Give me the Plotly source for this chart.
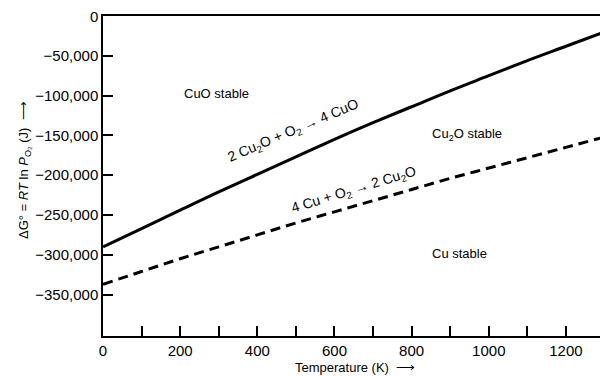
import plotly.graph_objects as go

temperature = [0, 100, 200, 300, 400, 500, 600, 700, 800, 900, 1000, 1100, 1200, 1300]
dg_cu2o_to_cuo = [-290000, -267000, -244000, -221000, -199000, -177000, -155000,
                  -134000, -114000, -94000, -75000, -56000, -38000, -20000]
dg_cu_to_cu2o = [-337000, -321000, -305000, -290000, -275000, -260000, -246000,
                 -232000, -218000, -204000, -191000, -178000, -165000, -152000]

x_tick_vals = [0, 100, 200, 300, 400, 500, 600, 700, 800, 900, 1000, 1100, 1200]
x_tick_text = ["0", "", "200", "", "400", "", "600", "", "800", "", "1000", "", "1200"]
y_tick_vals = [0, -50000, -100000, -150000, -200000, -250000, -300000, -350000]

FONT = "Liberation Sans, Arial, sans-serif"

fig = go.Figure()
fig.add_trace(go.Scatter(x=temperature, y=dg_cu2o_to_cuo, mode="lines",
                         line=dict(color="black", width=3, shape="spline"),
                         showlegend=False, hoverinfo="skip"))
fig.add_trace(go.Scatter(x=temperature, y=dg_cu_to_cu2o, mode="lines",
                         line=dict(color="black", width=3, dash="10px,6px", shape="spline"),
                         showlegend=False, hoverinfo="skip"))

def ann(size=13):
    return dict(showarrow=False, font=dict(family=FONT, size=size, color="black"),
                xref="paper", yref="paper")

fig.add_annotation(x=(182 - 103) / 505, y=(336 - 93) / 320, text="CuO stable",
                   xanchor="left", yanchor="middle", **ann())
fig.add_annotation(x=(467 - 103) / 505, y=(336 - 134) / 320, text="Cu<sub>2</sub>O stable",
                   xanchor="center", yanchor="middle", **ann())
fig.add_annotation(x=(459 - 103) / 505, y=(336 - 253) / 320, text="Cu stable",
                   xanchor="center", yanchor="middle", **ann())
fig.add_annotation(x=(293 - 103) / 505, y=(336 - 131) / 320,
                   text="2 Cu<sub>2</sub>O + O<sub>2</sub> → 4 CuO",
                   textangle=-23, xanchor="center", yanchor="middle", **ann(14))
fig.add_annotation(x=(354 - 103) / 505, y=(336 - 190) / 320,
                   text="4 Cu + O<sub>2</sub> → 2 Cu<sub>2</sub>O",
                   textangle=-17, xanchor="center", yanchor="middle", **ann(14))
# axis titles
fig.add_annotation(x=(355 - 103) / 505, y=(336 - 367) / 320,
                   text="Temperature (K)  ⟶", xanchor="center", yanchor="middle", **ann())
fig.add_annotation(x=(24 - 103) / 505, y=(336 - 170) / 320,
                   text="ΔG° = <i>RT</i> ln <i>P</i><sub>O₂</sub> (J)  ⟶",
                   textangle=-90, xanchor="center", yanchor="middle", **ann())
# top "0" tick label (plotly hides it at the figure's top edge)
fig.add_annotation(x=0, xref="paper", y=y_tick_vals[0], yref="y", text=f"{y_tick_vals[0]:,}",
                   showarrow=False, xanchor="right", yanchor="middle", xshift=-3,
                   font=dict(family=FONT, size=15, color="black"))

# page body has an 8px margin, so the figure is 8px smaller than the window
fig.update_layout(
    width=600, height=368,
    margin=dict(l=95, r=0, t=8, b=40),
    paper_bgcolor="white", plot_bgcolor="white",
    font=dict(family=FONT, color="black"),
    xaxis=dict(range=[0, 1309], tickvals=x_tick_vals, ticktext=x_tick_text,
               ticks="inside", ticklen=10, tickwidth=1.5, tickcolor="black",
               showline=True, linecolor="black", linewidth=1.5, mirror=True,
               showgrid=False, zeroline=False, tickfont=dict(size=15),
               automargin=False),
    yaxis=dict(range=[-402000, 0], tickvals=y_tick_vals, tickformat=",",
               ticks="inside", ticklen=10, tickwidth=1.5, tickcolor="black",
               showline=True, linecolor="black", linewidth=1.5,
               showgrid=False, zeroline=False, tickfont=dict(size=15),
               automargin=False),
)

fig.write_html("out.html")
